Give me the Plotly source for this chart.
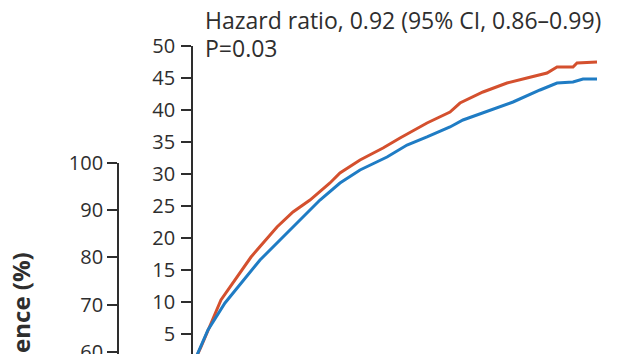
import plotly.graph_objects as go

# Inset (zoomed) curves: months of follow-up vs cumulative incidence (%)
red_t = [0, 1.32, 4.26, 6.32, 8.68, 9.56, 12.5, 14.85, 17.35, 20.29, 21.76, 24.71, 28.09,
         30.59, 34.56, 37.94, 39.41, 42.79, 46.32, 49.26, 52.21, 53.68, 56.03, 56.62, 59.56]
red_v = [0, 3.04, 10.36, 13.47, 17.05, 18.15, 21.73, 24.07, 25.93, 28.58, 30.14, 32.17, 34.03,
         35.59, 37.93, 39.64, 41.04, 42.76, 44.16, 44.94, 45.72, 46.65, 46.65, 47.27, 47.43]
blue_t = [0, 1.18, 2.35, 4.85, 7.21, 10.0, 10.44, 13.38, 16.32, 18.82, 21.76, 24.71, 28.68,
          31.62, 34.56, 37.94, 39.85, 43.82, 47.21, 51.18, 53.68, 56.03, 57.5, 59.56]
blue_v = [0, 2.88, 5.69, 9.89, 13.01, 16.59, 17.06, 20.17, 23.29, 25.93, 28.58, 30.61, 32.63,
          34.50, 35.75, 37.31, 38.40, 39.95, 41.20, 43.07, 44.16, 44.31, 44.78, 44.78]

outer_ticks = [60, 70, 80, 90, 100]
inset_ticks = [5, 10, 15, 20, 25, 30, 35, 40, 45, 50]

hr_text = "Hazard ratio, 0.92 (95% CI, 0.86\u20130.99)"
p_text = "P=0.03"
y_title = "Cumulative Incidence (%)"

W, H = 629, 354
OFF = 8  # page body margin offset
RED = "#d4502e"
BLUE = "#1f7cc4"
INK = "#2e2e2e"
FONT = "Open Sans"


def px(x):
    return (x - OFF) / W


def py(y):
    return 1 - (y - OFF) / H


fig = go.Figure()
# invisible trace to keep outer axes alive
fig.add_trace(go.Scatter(x=[0], y=[80], mode="markers", marker=dict(opacity=0),
                         xaxis="x", yaxis="y", showlegend=False, hoverinfo="skip"))
fig.add_trace(go.Scatter(x=red_t, y=red_v, mode="lines", line=dict(color=RED, width=3),
                         xaxis="x2", yaxis="y2", showlegend=False))
fig.add_trace(go.Scatter(x=blue_t, y=blue_v, mode="lines", line=dict(color=BLUE, width=3),
                         xaxis="x2", yaxis="y2", showlegend=False))

axis_common = dict(showgrid=False, zeroline=False, showline=True, linecolor=INK, linewidth=1.8,
                   ticks="outside", tickcolor=INK, tickwidth=1.8, ticklen=10, automargin=False,
                   ticklabeloverflow="allow",
                   tickfont=dict(family=FONT, size=20, color=INK))

fig.update_layout(
    template="none",
    width=W, height=H,
    margin=dict(l=0, r=0, t=0, b=0, pad=0, autoexpand=False),
    paper_bgcolor="white", plot_bgcolor="rgba(0,0,0,0)",
    xaxis=dict(domain=[px(118), 1], range=[0, 10], visible=False, automargin=False),
    yaxis=dict(domain=[0, py(162.7)], range=[57.87, 100], tickvals=outer_ticks,
               anchor="free", position=px(118), ticklabelstandoff=0, **axis_common),
    xaxis2=dict(domain=[px(192), 1], range=[0, 65.44], visible=False, anchor="y2",
                automargin=False),
    yaxis2=dict(domain=[0, py(45.5)], range=[0.70, 50], tickvals=inset_ticks,
                anchor="free", position=px(192), ticklabelstandoff=2, **axis_common),
    annotations=[
        dict(text=hr_text, xref="paper", yref="paper", x=px(203), y=py(20),
             xanchor="left", yanchor="middle", showarrow=False,
             font=dict(family=FONT, size=23, color=INK)),
        dict(text=p_text, xref="paper", yref="paper", x=px(203), y=py(47.5),
             xanchor="left", yanchor="middle", showarrow=False,
             font=dict(family=FONT, size=23, color=INK)),
        dict(text="<b>" + y_title + "</b>", xref="paper", yref="paper", x=px(20), y=py(251),
             xanchor="center", yanchor="top", textangle=-90, showarrow=False,
             font=dict(family=FONT, size=24, color=INK)),
    ],
)

fig.write_html("out.html")
